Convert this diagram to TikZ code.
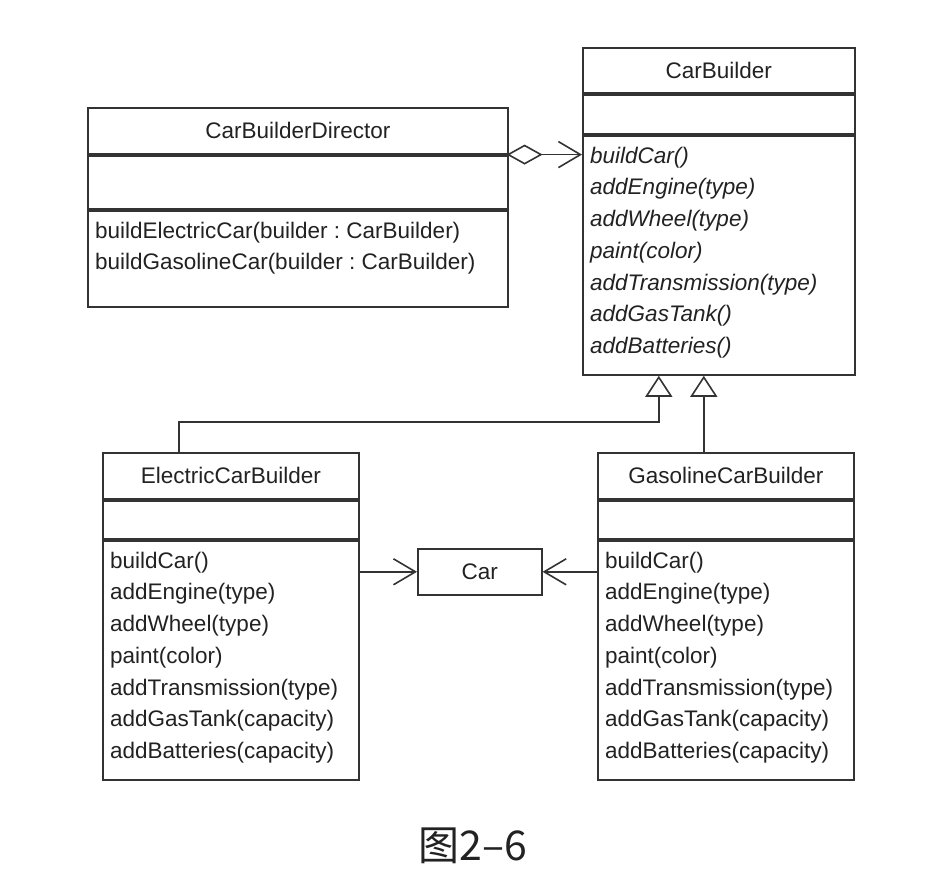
\documentclass[tikz,border=0pt]{standalone}
\usepackage{fontspec}
\setmainfont{Liberation Sans}
\newfontfamily\cjkfont{Noto Sans CJK SC}
\usetikzlibrary{arrows.meta}
\frenchspacing

\definecolor{umlline}{HTML}{333333}
\definecolor{umltext}{HTML}{222222}

\tikzset{
  classbox/.style={rectangle, draw=umlline, line width=1.6pt, inner sep=0pt,
    anchor=north west, text=umltext, font=\fontsize{22.5}{31.7}\selectfont},
  septhick/.style={draw=umlline, line width=4pt},
  opstext/.style={anchor=north west, align=left, inner xsep=8pt, inner ysep=11.5pt,
    text=umltext, font=\fontsize{22.5}{31.7}\selectfont},
  aggr/.style={draw=umlline, line width=1.6pt,
    {Diamond[open,length=36pt,width=20pt]}-{Straight Barb[length=22pt,width=26pt]}},
  assoc/.style={draw=umlline, line width=1.6pt, -{Straight Barb[length=22pt,width=26pt]}},
  inherit/.style={draw=umlline, line width=1.6pt, -{Triangle[open,length=21pt,width=27pt]}},
}

\begin{document}
\begin{tikzpicture}[x=1pt, y=-1pt]

  \useasboundingbox[fill=white] (0,0) rectangle (940,882);

  % CarBuilderDirector
  \node[classbox, minimum width=420pt, minimum height=46pt] (dirname) at (87,107) {CarBuilderDirector};
  \node[classbox, minimum width=420pt, minimum height=54pt] (dirattr) at (dirname.south west) {};
  \node[classbox, minimum width=420pt, minimum height=96pt] (dirops)  at (dirattr.south west) {};
  \node[opstext] (dirtext) at (dirops.north west)
    {buildElectricCar(builder : CarBuilder)\\buildGasolineCar(builder : CarBuilder)};

  % CarBuilder
  \node[classbox, minimum width=272pt, minimum height=45pt]  (cbname) at (582,47) {CarBuilder};
  \node[classbox, minimum width=272pt, minimum height=40pt]  (cbattr) at (cbname.south west) {};
  \node[classbox, minimum width=272pt, minimum height=239pt] (cbops)  at (cbattr.south west) {};
  \node[opstext, font=\fontsize{22.5}{31.7}\selectfont\itshape] (cbtext) at (cbops.north west)
    {buildCar()\\addEngine(type)\\addWheel(type)\\paint(color)\\addTransmission(type)\\addGasTank()\\addBatteries()};

  % ElectricCarBuilder
  \node[classbox, minimum width=256pt, minimum height=46pt]  (ecname) at (102,452) {ElectricCarBuilder};
  \node[classbox, minimum width=256pt, minimum height=39pt]  (ecattr) at (ecname.south west) {};
  \node[classbox, minimum width=256pt, minimum height=239pt] (ecops)  at (ecattr.south west) {};
  \node[opstext] (ectext) at (ecops.north west)
    {buildCar()\\addEngine(type)\\addWheel(type)\\paint(color)\\addTransmission(type)\\addGasTank(capacity)\\addBatteries(capacity)};

  % GasolineCarBuilder
  \node[classbox, minimum width=256pt, minimum height=46pt]  (gcname) at (597,452) {GasolineCarBuilder};
  \node[classbox, minimum width=256pt, minimum height=39pt]  (gcattr) at (gcname.south west) {};
  \node[classbox, minimum width=256pt, minimum height=239pt] (gcops)  at (gcattr.south west) {};
  \node[opstext] (gctext) at (gcops.north west)
    {buildCar()\\addEngine(type)\\addWheel(type)\\paint(color)\\addTransmission(type)\\addGasTank(capacity)\\addBatteries(capacity)};

  % Car
  \node[classbox, minimum width=124pt, minimum height=46pt] (car) at (417,548) {Car};

  % compartment separators
  \draw[septhick] (dirname.south west) -- (dirname.south east);
  \draw[septhick] (dirattr.south west) -- (dirattr.south east);
  \draw[septhick] (cbname.south west) -- (cbname.south east);
  \draw[septhick] (cbattr.south west) -- (cbattr.south east);
  \draw[septhick] (ecname.south west) -- (ecname.south east);
  \draw[septhick] (ecattr.south west) -- (ecattr.south east);
  \draw[septhick] (gcname.south west) -- (gcname.south east);
  \draw[septhick] (gcattr.south west) -- (gcattr.south east);

  % relations
  \coordinate (genl) at ([xshift=-60pt]cbops.south);
  \coordinate (genr) at ([xshift=-15pt]cbops.south);
  \draw[aggr] ([xshift=-2pt]dirname.south east) -- (dirname.south east -| cbops.west);
  \draw[inherit] ([xshift=-52pt]ecname.north) -- ++(0,-30) -| (genl);
  \draw[inherit] (genr |- gcname.north) -- (genr);
  \draw[assoc] (car.west -| ecops.east) -- (car.west);
  \draw[assoc] (car.east -| gcops.west) -- (car.east);

  \node[font=\cjkfont\fontsize{41}{41}\selectfont, text=umltext] (caption) at (473,846) {图2–6};

\end{tikzpicture}
\end{document}
